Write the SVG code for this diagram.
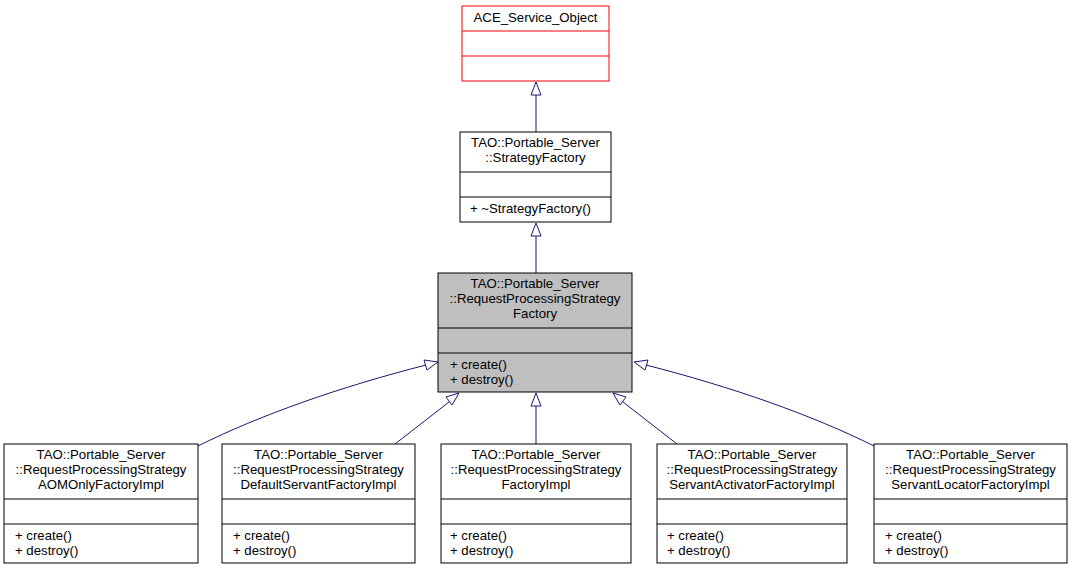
<svg xmlns="http://www.w3.org/2000/svg" width="1072" height="571" viewBox="0 0 1072 571">
<style>
.box{fill:#ffffff;stroke:#000000;stroke-width:1}
.sep{stroke:#000000;stroke-width:1}
.t{font-family:"Liberation Sans",Arial,sans-serif;font-size:13.2px;fill:#000000}
.e{fill:none;stroke:#191970;stroke-width:1}
.ah{fill:#ffffff;stroke:#191970;stroke-width:1}
</style>
<rect width="1072" height="571" fill="#ffffff"/>
<g id="connectors">
<path class="e" d="M536,132 L536,93"/>
<polygon class="ah" points="536,82 531,95 541,95"/>
<path class="e" d="M536,273 L536,234"/>
<polygon class="ah" points="536,223 531,236 541,236"/>
<path class="e" d="M198,446 C260,415 340,387 426,365"/>
<polygon class="ah" points="438,362 424,360 427,370"/>
<path class="e" d="M395,444 L449,402"/>
<polygon class="ah" points="459,393 446,397 452,405"/>
<path class="e" d="M536,444 L536,405"/>
<polygon class="ah" points="536,393 531,406 541,406"/>
<path class="e" d="M677,444 L623,402"/>
<polygon class="ah" points="613,393 626,397 620,405"/>
<path class="e" d="M874,446 C812,415 732,387 646,365"/>
<polygon class="ah" points="634,362 648,360 645,370"/>
</g>
<g id="ace_service_object">
<rect x="462" y="6" width="147" height="75" fill="#ffffff" stroke="#ff0000"/>
<line x1="462" y1="31" x2="609" y2="31" stroke="#ff0000"/>
<line x1="462" y1="56" x2="609" y2="56" stroke="#ff0000"/>
<text class="t" x="535.5" y="22" text-anchor="middle">ACE_Service_Object</text>
</g>
<g id="strategy_factory">
<rect class="box" x="460" y="132" width="151" height="90"/>
<line class="sep" x1="460" y1="172" x2="611" y2="172"/>
<line class="sep" x1="460" y1="197" x2="611" y2="197"/>
<text class="t" x="535.5" y="147" text-anchor="middle">TAO::Portable_Server</text>
<text class="t" x="535.5" y="162" text-anchor="middle">::StrategyFactory</text>
<text class="t" x="470" y="213">+ ~StrategyFactory()</text>
</g>
<g id="rps_factory">
<rect x="438" y="273" width="194" height="119" fill="#bfbfbf" stroke="#000000"/>
<line class="sep" x1="438" y1="328" x2="632" y2="328"/>
<line class="sep" x1="438" y1="353" x2="632" y2="353"/>
<text class="t" x="535" y="288" text-anchor="middle">TAO::Portable_Server</text>
<text class="t" x="535" y="303" text-anchor="middle">::RequestProcessingStrategy</text>
<text class="t" x="535" y="318" text-anchor="middle">Factory</text>
<text class="t" x="450" y="369">+ create()</text>
<text class="t" x="450" y="384">+ destroy()</text>
</g>
<g id="aom_only">
<rect class="box" x="4" y="444" width="194" height="119"/>
<line class="sep" x1="4" y1="499" x2="198" y2="499"/>
<line class="sep" x1="4" y1="524" x2="198" y2="524"/>
<text class="t" x="101" y="459" text-anchor="middle">TAO::Portable_Server</text>
<text class="t" x="101" y="474" text-anchor="middle">::RequestProcessingStrategy</text>
<text class="t" x="101" y="489" text-anchor="middle">AOMOnlyFactoryImpl</text>
<text class="t" x="15" y="540">+ create()</text>
<text class="t" x="15" y="555">+ destroy()</text>
</g>
<g id="default_servant">
<rect class="box" x="222" y="444" width="193" height="119"/>
<line class="sep" x1="222" y1="499" x2="415" y2="499"/>
<line class="sep" x1="222" y1="524" x2="415" y2="524"/>
<text class="t" x="318.5" y="459" text-anchor="middle">TAO::Portable_Server</text>
<text class="t" x="318.5" y="474" text-anchor="middle">::RequestProcessingStrategy</text>
<text class="t" x="318.5" y="489" text-anchor="middle">DefaultServantFactoryImpl</text>
<text class="t" x="233" y="540">+ create()</text>
<text class="t" x="233" y="555">+ destroy()</text>
</g>
<g id="factory_impl">
<rect class="box" x="441" y="444" width="190" height="119"/>
<line class="sep" x1="441" y1="499" x2="631" y2="499"/>
<line class="sep" x1="441" y1="524" x2="631" y2="524"/>
<text class="t" x="536" y="459" text-anchor="middle">TAO::Portable_Server</text>
<text class="t" x="536" y="474" text-anchor="middle">::RequestProcessingStrategy</text>
<text class="t" x="536" y="489" text-anchor="middle">FactoryImpl</text>
<text class="t" x="450" y="540">+ create()</text>
<text class="t" x="450" y="555">+ destroy()</text>
</g>
<g id="servant_activator">
<rect class="box" x="657" y="444" width="190" height="119"/>
<line class="sep" x1="657" y1="499" x2="847" y2="499"/>
<line class="sep" x1="657" y1="524" x2="847" y2="524"/>
<text class="t" x="752" y="459" text-anchor="middle">TAO::Portable_Server</text>
<text class="t" x="752" y="474" text-anchor="middle">::RequestProcessingStrategy</text>
<text class="t" x="752" y="489" text-anchor="middle">ServantActivatorFactoryImpl</text>
<text class="t" x="667" y="540">+ create()</text>
<text class="t" x="667" y="555">+ destroy()</text>
</g>
<g id="servant_locator">
<rect class="box" x="874" y="444" width="193" height="119"/>
<line class="sep" x1="874" y1="499" x2="1067" y2="499"/>
<line class="sep" x1="874" y1="524" x2="1067" y2="524"/>
<text class="t" x="970.5" y="459" text-anchor="middle">TAO::Portable_Server</text>
<text class="t" x="970.5" y="474" text-anchor="middle">::RequestProcessingStrategy</text>
<text class="t" x="970.5" y="489" text-anchor="middle">ServantLocatorFactoryImpl</text>
<text class="t" x="885" y="540">+ create()</text>
<text class="t" x="885" y="555">+ destroy()</text>
</g>
</svg>
